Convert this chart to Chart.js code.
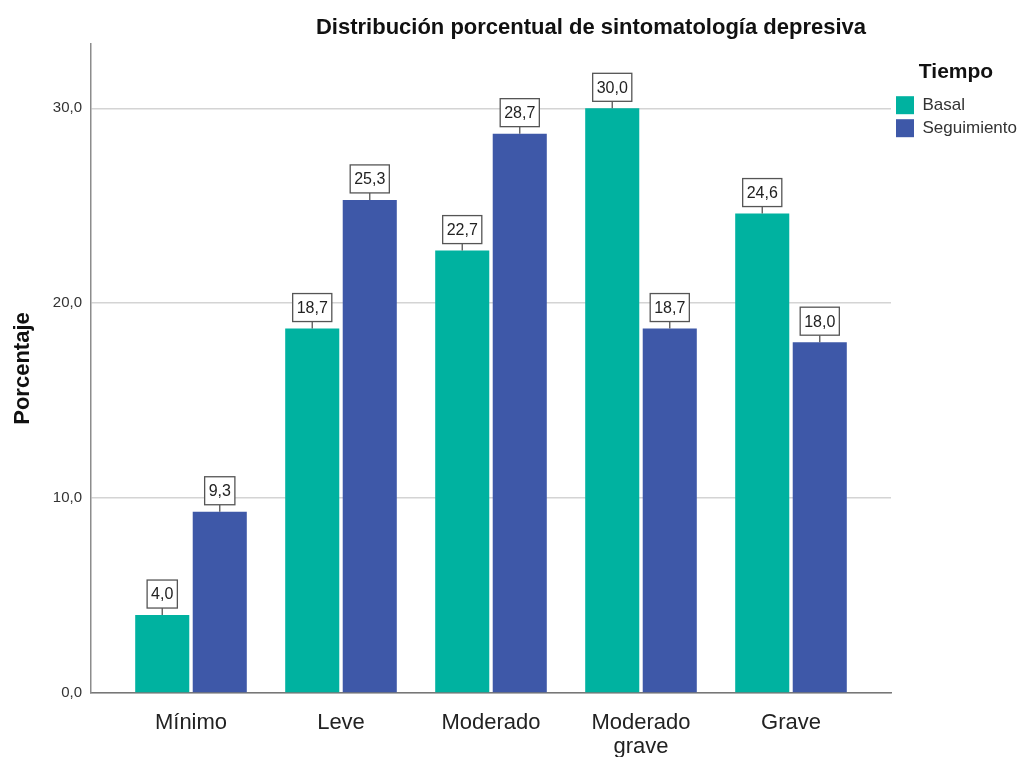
<!DOCTYPE html>
<html lang="es">
<head>
<meta charset="utf-8">
<title>Distribución porcentual de sintomatología depresiva</title>
<script src="https://cdn.jsdelivr.net/npm/chart.js@4/dist/chart.umd.min.js"></script>
<style>
  html, body { margin: 0; padding: 0; background: #fff; }
  canvas { display: block; }
</style>
</head>
<body>
<canvas id="grafica" width="1021" height="757"></canvas>
<script>
'use strict';

// Datos
const categorias = ['Mínimo', 'Leve', 'Moderado', ['Moderado', 'grave'], 'Grave'];
const basal = [4.0, 18.7, 22.7, 30.0, 24.6];
const seguimiento = [9.3, 25.3, 28.7, 18.7, 18.0];
const ticksY = [0, 10, 20, 30];

const colorBasal = '#00b2a0';
const colorSeguimiento = '#3e58a8';

const formato = v => v.toFixed(1).replace('.', ',');

// Título dibujado a mano para poder centrarlo donde queremos
const tituloPlugin = {
    id: 'tituloSpss',
    afterDraw(chart) {
        const ctx = chart.ctx;
        ctx.save();
        ctx.font = 'bold 22px "Liberation Sans", Arial, sans-serif';
        ctx.fillStyle = '#111';
        ctx.textAlign = 'center';
        ctx.textBaseline = 'middle';
        ctx.fillText('Distribución porcentual de sintomatología depresiva', 591, 28);
        ctx.restore();
    }
};

// Etiquetas con recuadro encima de cada barra
const etiquetasPlugin = {
    id: 'etiquetasCaja',
    afterDatasetsDraw(chart) {
        const ctx = chart.ctx;
        ctx.save();
        ctx.font = '16px "Liberation Sans", Arial, sans-serif';
        ctx.textAlign = 'center';
        ctx.textBaseline = 'middle';
        chart.data.datasets.forEach((ds, i) => {
            const meta = chart.getDatasetMeta(i);
            meta.data.forEach((barra, j) => {
                const texto = formato(ds.data[j].y);
                const ancho = ctx.measureText(texto).width + 8;
                const alto = 28;
                const linea = 7;
                const x = barra.x;
                const yBase = barra.y - linea;
                ctx.strokeStyle = '#555';
                ctx.lineWidth = 1.3;
                ctx.beginPath();
                ctx.moveTo(x, barra.y);
                ctx.lineTo(x, yBase);
                ctx.stroke();
                ctx.fillStyle = '#fff';
                ctx.fillRect(x - ancho / 2, yBase - alto, ancho, alto);
                ctx.strokeRect(x - ancho / 2, yBase - alto, ancho, alto);
                ctx.fillStyle = '#222';
                ctx.fillText(texto, x, yBase - alto / 2 + 1);
            });
        });
        ctx.restore();
    }
};

Chart.defaults.font.family = '"Liberation Sans", Arial, sans-serif';
Chart.defaults.color = '#333';

new Chart(document.getElementById('grafica').getContext('2d'), {
    type: 'bar',
    data: {
        datasets: [
            {
                label: 'Basal',
                data: basal.map((v, i) => ({ x: i, y: v })),
                backgroundColor: colorBasal
            },
            {
                label: 'Seguimiento',
                data: seguimiento.map((v, i) => ({ x: i, y: v })),
                backgroundColor: colorSeguimiento
            }
        ]
    },
    options: {
        responsive: false,
        animation: false,
        categoryPercentage: 0.767,
        barPercentage: 0.94,
        layout: { padding: { top: 44, left: 0, right: 0, bottom: 0 } },
        scales: {
            x: {
                type: 'linear',
                offset: false,
                min: -2 / 3,
                max: 4 + 2 / 3,
                afterBuildTicks: eje => { eje.ticks = categorias.map((_, i) => ({ value: i })); },
                afterFit: eje => { eje.height = 64; },
                grid: { display: false },
                border: { display: true, color: '#777', width: 1.5 },
                ticks: {
                    includeBounds: false,
                    autoSkip: false,
                    maxRotation: 0,
                    padding: 10,
                    color: '#222',
                    font: { size: 22, lineHeight: 1.08 },
                    callback: v => categorias[v]
                }
            },
            y: {
                min: 0,
                max: 33.3,
                afterBuildTicks: eje => { eje.ticks = ticksY.map(v => ({ value: v })); },
                afterFit: eje => { eje.width = 91; },
                grid: { color: '#d4d4d4', lineWidth: 1.5, drawTicks: false },
                border: { display: true, color: '#8c8c8c', width: 1.5 },
                ticks: {
                    includeBounds: false,
                    padding: 9,
                    color: '#333',
                    font: { size: 15 },
                    callback: v => formato(v)
                },
                title: {
                    display: true,
                    text: 'Porcentaje',
                    color: '#111',
                    font: { size: 22, weight: 'bold' },
                    padding: { top: 10, bottom: 0 }
                }
            }
        },
        plugins: {
            title: { display: false },
            tooltip: { enabled: false },
            legend: {
                position: 'right',
                align: 'start',
                maxWidth: 130,
                title: {
                    display: true,
                    text: 'Tiempo',
                    color: '#111',
                    font: { size: 21, weight: 'bold' },
                    padding: { top: 18, bottom: 4 }
                },
                labels: {
                    boxWidth: 18,
                    boxHeight: 18,
                    padding: 5,
                    color: '#333',
                    font: { size: 17 }
                }
            }
        }
    },
    plugins: [tituloPlugin, etiquetasPlugin]
});
</script>
</body>
</html>
